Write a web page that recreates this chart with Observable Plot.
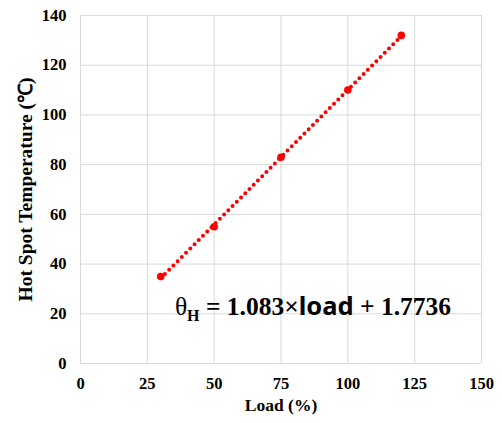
<!DOCTYPE html>
<html>
<head>
<meta charset="utf-8">
<script src="https://cdn.jsdelivr.net/npm/d3@7"></script>
<script src="https://cdn.jsdelivr.net/npm/@observablehq/plot@0.6"></script>
<style>
  html, body { margin: 0; padding: 0; background: #fff; }
  #chart svg { display: block; }
</style>
</head>
<body>
<div id="chart"></div>
<script>
const loads = [30, 50, 75, 100, 120];
const temps = [35, 55, 83, 110, 132];
const xTicks = [0, 25, 50, 75, 100, 125, 150];
const yTicks = [0, 20, 40, 60, 80, 100, 120, 140];
const xLabel = "Load (%)";
const yLabel = "Hot Spot Temperature (℃)";
const eqPos = {x: 35.5, y: 23};

const data = loads.map((l, i) => ({load: l, temp: temps[i]}));
const serif = "'Liberation Serif', 'Times New Roman', serif";
const red = "#ff0000";

const plot = Plot.plot({
  width: 502,
  height: 423,
  marginLeft: 80,
  marginRight: 21,
  marginTop: 15,
  marginBottom: 60,
  style: {fontFamily: serif, background: "#fff"},
  x: {domain: [0, 150], ticks: xTicks},
  y: {domain: [0, 140], ticks: yTicks},
  marks: [
    Plot.gridX(xTicks, {stroke: "#d9d9d9", strokeOpacity: 1, strokeWidth: 1}),
    Plot.gridY(yTicks, {stroke: "#d9d9d9", strokeOpacity: 1, strokeWidth: 1}),
    Plot.axisX(xTicks, {tickSize: 0, tickPadding: 14, fontSize: 16.5, fontWeight: "bold", fill: "#000", label: null}),
    Plot.axisY(yTicks, {tickSize: 0, tickPadding: 14, fontSize: 16.5, fontWeight: "bold", fill: "#000", label: null}),
    Plot.text([xLabel], {frameAnchor: "bottom", textAnchor: "middle", dy: 47, fontSize: 17.5, fontWeight: "bold", fill: "#000"}),
    Plot.text([yLabel], {frameAnchor: "left", textAnchor: "middle", rotate: -90, dx: -55, fontSize: 19.5, fontWeight: "bold", fill: "#000"}),
    Plot.linearRegressionY(data, {x: "load", y: "temp", ci: 0, stroke: red, strokeWidth: 4, strokeDasharray: "0 6", strokeLinecap: "round"}),
    Plot.dot(data, {x: "load", y: "temp", r: 3.8, fill: red, stroke: "none"})
  ]
});

// equation annotation placed via the plot's scales
const sx = plot.scale("x"), sy = plot.scale("y");
const svg = d3.select(plot);
const t = svg.append("text")
  .attr("x", sx.apply(eqPos.x))
  .attr("y", sy.apply(eqPos.y))
  .attr("dy", "0.35em")
  .attr("text-anchor", "start")
  .attr("font-family", serif)
  .attr("font-weight", "bold")
  .attr("font-size", 25.5)
  .attr("fill", "#000");
t.append("tspan").attr("font-weight", "normal").text("θ");
t.append("tspan").attr("font-size", 16).attr("dy", 6).text("H");
t.append("tspan").attr("dy", -6).text(" = 1.083×");
t.append("tspan").attr("font-family", "'Noto Sans', sans-serif").text("load");
t.append("tspan").text(" + 1.7736");

document.getElementById("chart").appendChild(plot);
</script>
</body>
</html>
